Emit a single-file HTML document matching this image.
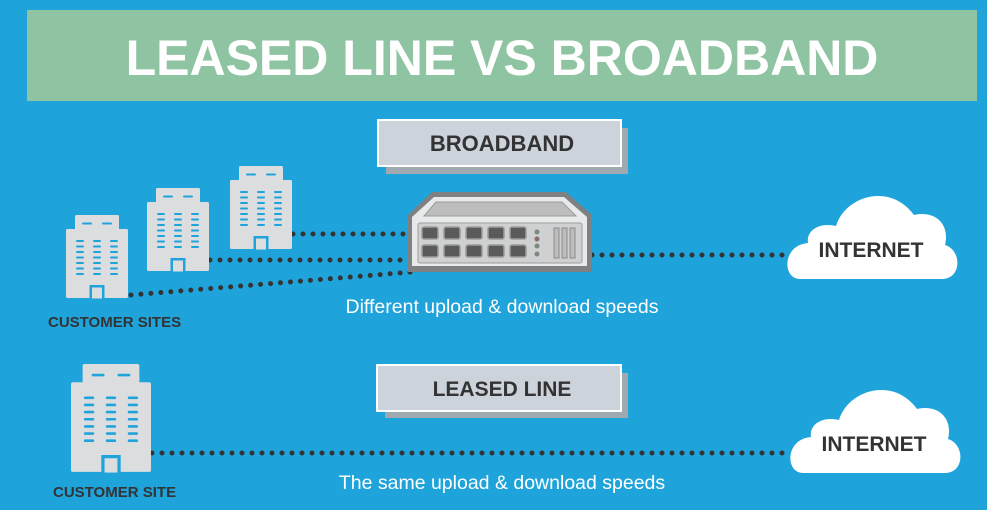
<!DOCTYPE html>
<html><head><meta charset="utf-8"><style>
html,body{margin:0;padding:0;background:#1fa3db;}
svg{display:block;}
text{font-family:"Liberation Sans",sans-serif;}
</style></head><body>
<svg width="987" height="510" viewBox="0 0 987 510" xmlns="http://www.w3.org/2000/svg">
<defs>
<g id="bld">
  <rect x="9" y="0" width="44" height="16" rx="1.5" fill="#dcdddf"/>
  <rect x="0" y="14" width="62" height="69" rx="1.5" fill="#dcdddf"/>
  <g stroke="#1fa3db" stroke-width="2" stroke-linecap="round">
    <line x1="17" y1="8.5" x2="25" y2="8.5"/><line x1="37" y1="8.5" x2="45" y2="8.5"/>
  </g>
  <g stroke="#1fa3db" stroke-width="2" stroke-linecap="round">
    <path d="M11 26h6M11 31.5h6M11 37h6M11 42.5h6M11 48h6M11 53.5h6M11 59h6
             M28 26h6M28 31.5h6M28 37h6M28 42.5h6M28 48h6M28 53.5h6M28 59h6
             M45 26h6M45 31.5h6M45 37h6M45 42.5h6M45 48h6M45 53.5h6M45 59h6"/>
  </g>
  <rect x="23.5" y="70" width="15" height="14" fill="#1fa3db"/>
  <rect x="26" y="72.5" width="10" height="11" fill="#dcdddf"/>
</g>
<g id="cloud">
  <path d="M14 91 C-4 91 -4 57 22 55 C20 42 34 34 50 38 C59 8 104 -6 128 27 C150 22 164 37 159 57 C176 62 176 91 156 91 Z" fill="#fff"/>
</g>
</defs>

<rect x="27" y="10" width="950" height="91" fill="#8fc4a2"/>
<text x="502" y="75" text-anchor="middle" font-size="50" font-weight="bold" fill="#fff">LEASED LINE VS BROADBAND</text>

<rect x="386" y="128" width="242" height="46" fill="#a1a9b0"/>
<rect x="378" y="120" width="243" height="46" fill="#ccd3db" stroke="#fff" stroke-width="2"/>
<text x="502" y="151" text-anchor="middle" font-size="22" font-weight="bold" fill="#333">BROADBAND</text>

<g stroke="#333" stroke-width="5" stroke-linecap="round" stroke-dasharray="0 10" fill="none">
  <line x1="293" y1="234" x2="405" y2="234"/>
  <line x1="210" y1="260" x2="405" y2="260"/>
  <line x1="131" y1="295" x2="412" y2="272"/>
  <line x1="592" y1="255" x2="785" y2="255"/>
  <line x1="152" y1="453" x2="792" y2="453"/>
</g>

<use href="#bld" x="66" y="215"/>
<use href="#bld" x="147" y="188"/>
<use href="#bld" x="230" y="166"/>
<use href="#bld" transform="translate(71,364) scale(1.29,1.3)"/>

<g>
  <path d="M408 215 L432 192 L566 192 L592 215 L592 272 L408 272 Z" fill="#7f8081"/>
  <path d="M412 217 L434 197 L564 197 L587 217 L587 266 L412 266 Z" fill="#e8e9ea"/>
  <path d="M424 216 L436 202 L562 202 L576 216 Z" fill="#bdbdbd" stroke="#9a9a9a" stroke-width="1"/>
  <rect x="418" y="223" width="164" height="40" rx="2" fill="#cfd0d1" stroke="#9c9c9c"/>
  <g fill="#5a5a5a" stroke="#9c9c9c" stroke-width="1.5">
    <rect x="422" y="227" width="16" height="12" rx="2"/><rect x="444" y="227" width="16" height="12" rx="2"/><rect x="466" y="227" width="16" height="12" rx="2"/><rect x="488" y="227" width="16" height="12" rx="2"/><rect x="510" y="227" width="16" height="12" rx="2"/>
    <rect x="422" y="245" width="16" height="12" rx="2"/><rect x="444" y="245" width="16" height="12" rx="2"/><rect x="466" y="245" width="16" height="12" rx="2"/><rect x="488" y="245" width="16" height="12" rx="2"/><rect x="510" y="245" width="16" height="12" rx="2"/>
  </g>
  <g fill="#7a8a7a"><circle cx="537" cy="232" r="2.5"/><circle cx="537" cy="239" r="2.5" fill="#8a6a6a"/><circle cx="537" cy="246" r="2.5"/><circle cx="537" cy="254" r="2.5"/></g>
  <g fill="#bdbdbd" stroke="#8c8c8c"><rect x="554" y="228" width="5" height="30"/><rect x="562" y="228" width="5" height="30"/><rect x="570" y="228" width="5" height="30"/></g>
</g>

<text x="502" y="313" text-anchor="middle" font-size="19.5" fill="#fff">Different upload &amp; download speeds</text>
<text x="48" y="327" font-size="15" font-weight="bold" fill="#333">CUSTOMER SITES</text>

<use href="#cloud" x="786" y="188"/>
<text x="871" y="257" text-anchor="middle" font-size="21" font-weight="bold" fill="#333">INTERNET</text>

<rect x="385" y="373" width="243" height="45" fill="#a1a9b0"/>
<rect x="377" y="365" width="244" height="46" fill="#ccd3db" stroke="#fff" stroke-width="2"/>
<text x="502" y="396" text-anchor="middle" font-size="21" font-weight="bold" fill="#333">LEASED LINE</text>

<use href="#cloud" x="789" y="382"/>
<text x="874" y="451" text-anchor="middle" font-size="21" font-weight="bold" fill="#333">INTERNET</text>

<text x="502" y="489" text-anchor="middle" font-size="19.5" fill="#fff">The same upload &amp; download speeds</text>
<text x="53" y="497" font-size="15" font-weight="bold" fill="#333">CUSTOMER SITE</text>
</svg>
</body></html>
